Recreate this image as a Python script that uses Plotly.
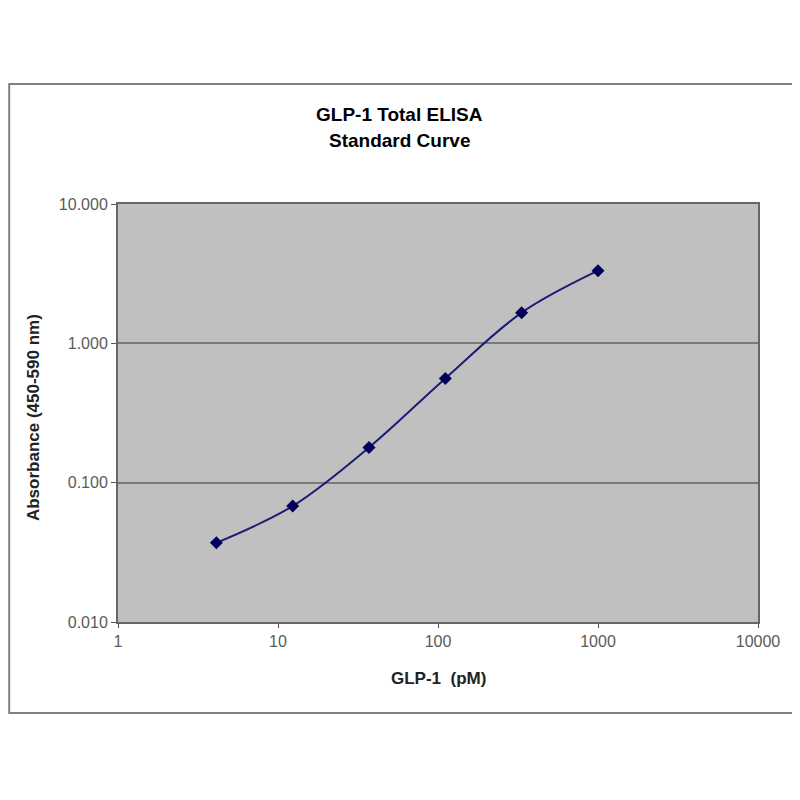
import plotly.graph_objects as go

# GLP-1 standard curve (3-fold dilutions)
conc_pm = [4.12, 12.35, 37.04, 111.1, 333.3, 1000]
absorbance = [0.037, 0.068, 0.179, 0.56, 1.66, 3.32]

x_ticks = [1, 10, 100, 1000, 10000]
x_tick_text = ['1', '10', '100', '1000', '10000']
y_ticks = [0.01, 0.1, 1, 10]
y_tick_text = ['0.010', '0.100', '1.000', '10.000']

font = 'Liberation Sans, Arial, sans-serif'

fig = go.Figure()
fig.add_trace(go.Scatter(
    x=conc_pm, y=absorbance, mode='lines+markers',
    line=dict(color='#1c1c78', width=2, shape='spline'),
    marker=dict(symbol='diamond', size=10, color='#00005a'),
    showlegend=False))

# page body adds 8px offset, so margins are trimmed to compensate
fig.update_layout(
    width=800, height=792,
    margin=dict(l=110, r=50, t=196, b=178),
    paper_bgcolor='white', plot_bgcolor='#c0c0c0',
    font=dict(family=font),
)
fig.update_xaxes(
    type='log', range=[0, 4], tickvals=x_ticks, ticktext=x_tick_text,
    showgrid=False, zeroline=False,
    showline=True, linecolor='#666666', linewidth=2, mirror=True,
    ticks='outside', ticklen=4, tickcolor='#555555',
    tickfont=dict(size=16, color='#5a5a5a'))
fig.update_yaxes(
    type='log', range=[-2, 1], tickvals=y_ticks, ticktext=y_tick_text,
    showgrid=True, gridcolor='#7a7a7a', gridwidth=2, zeroline=False,
    showline=True, linecolor='#666666', linewidth=2, mirror=True,
    ticks='outside', ticklen=5, tickcolor='#555555',
    tickfont=dict(size=16, color='#5a5a5a'))

# outer chart border
fig.add_shape(type='rect', xref='paper', yref='paper',
              x0=-0.170, x1=1.063, y0=-0.218, y1=1.287,
              line=dict(color='#808080', width=2))

fig.add_annotation(text='<b>GLP-1 Total ELISA</b>', xref='paper', yref='paper',
                   x=0.44, y=1.215, showarrow=False, xanchor='center', yanchor='middle',
                   font=dict(size=19, color='black'))
fig.add_annotation(text='<b>Standard Curve</b>', xref='paper', yref='paper',
                   x=0.44, y=1.151, showarrow=False, xanchor='center', yanchor='middle',
                   font=dict(size=19, color='black'))
fig.add_annotation(text='<b>GLP-1  (pM)</b>', xref='paper', yref='paper',
                   x=0.5, y=-0.136, showarrow=False, xanchor='center', yanchor='middle',
                   font=dict(size=17, color='#222222'))
fig.add_annotation(text='<b>Absorbance (450-590 nm)</b>', xref='paper', yref='paper',
                   x=-0.133, y=0.49, showarrow=False, textangle=-90,
                   xanchor='center', yanchor='middle',
                   font=dict(size=17, color='#222222'))

fig.write_html("out.html")
